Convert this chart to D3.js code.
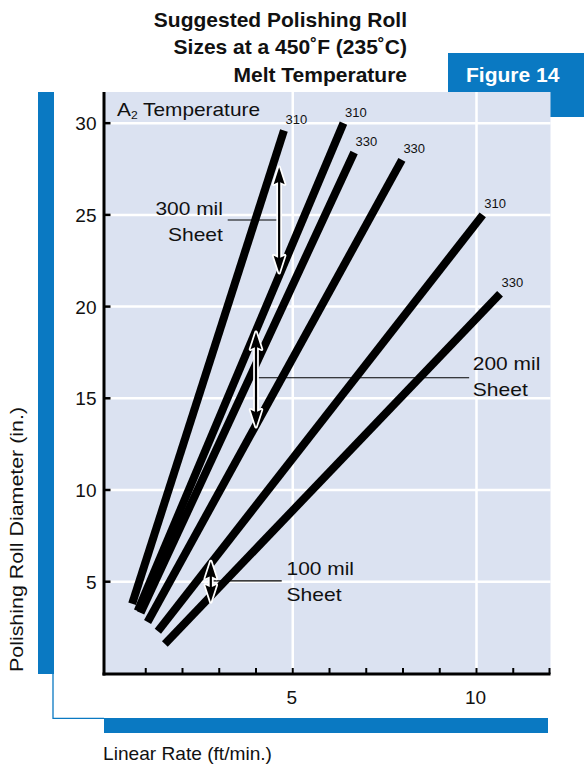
<!DOCTYPE html>
<html>
<head>
<meta charset="utf-8">
<script src="https://cdn.jsdelivr.net/npm/d3@7"></script>
<style>
  html, body { margin: 0; padding: 0; background: #ffffff; }
  svg { display: block; }
  text { font-family: "Liberation Sans", Arial, Helvetica, sans-serif; }
</style>
</head>
<body>
<div id="chart"></div>
<script>
// ---------- data ----------
const titleLines = ["Suggested Polishing Roll", "Sizes at a 450\u02daF (235\u02daC)", "Melt Temperature"];
const figureLabel = "Figure 14";
const xAxisTitle = "Linear Rate (ft/min.)";
const yAxisTitle = "Polishing Roll Diameter (in.)";

// six roll-size lines (A2 temperature labels)
const lineLabels     = ["310", "310", "330", "330", "310", "330"];
const startRate      = [0.63, 0.78, 0.86, 1.05, 1.33, 1.52];
const startDiameter  = [3.8, 3.4, 3.3, 2.8, 2.3, 1.6];
const endRate        = [4.76, 6.38, 6.67, 7.97, 10.17, 10.64];
const endDiameter    = [29.6, 30.0, 28.4, 28.0, 25.0, 20.7];

// sheet thickness annotations
const sheetLabels    = ["300 mil", "200 mil", "100 mil"];
const arrowRate      = [4.63, 4.00, 2.77];
const arrowTop       = [27.6, 18.6, 6.1];
const arrowBottom    = [21.85, 13.45, 3.9];
const leaderDiameter = [24.72, 16.12, 5.04];
const leaderEndRate  = [3.23, 9.80, 4.70];
const textRate       = [3.10, 9.90, 4.83];
const textDiameter   = [25.0, 16.55, 5.35];
const textAnchor     = ["end", "start", "start"];

const xTickValues  = d3.range(1, 13);
const xTickLabels  = [5, 10];
const yTickValues  = [5, 10, 15, 20, 25, 30];
const xGrid        = [5, 10];

// ---------- layout ----------
const W = 584, H = 766;
const frame = { left: 104, right: 550.5, top: 92, bottom: 674 };
const blue = "#0a79c2";
const plotBg = "#dbe2f1";

const x = d3.scaleLinear().domain([0, 12]).range([109, 550]);
const y = d3.scaleLinear().domain([0, 31.7]).range([673.4, 92]);

const svg = d3.select("#chart").append("svg")
  .attr("width", W).attr("height", H)
  .attr("viewBox", `0 0 ${W} ${H}`);

// Figure box (behind plot)
svg.append("rect").attr("x", 448).attr("y", 53).attr("width", W - 448).attr("height", 64).attr("fill", blue);
svg.append("text").attr("x", 466).attr("y", 82)
  .attr("fill", "#fff").attr("font-weight", "bold").attr("font-size", 21)
  .text(figureLabel);

// Title
svg.append("g").selectAll("text").data(titleLines).join("text")
  .attr("x", 407).attr("y", (d, i) => 26.7 + i * 27.5)
  .attr("text-anchor", "end").attr("font-weight", "bold").attr("font-size", 21)
  .attr("fill", "#111").text(d => d);

// Blue decorative bars
svg.append("rect").attr("x", 38).attr("y", frame.top).attr("width", 16).attr("height", frame.bottom - frame.top).attr("fill", blue);
svg.append("path").attr("d", `M53,${frame.bottom} V718.3 H${frame.left}`).attr("fill", "none").attr("stroke", blue).attr("stroke-width", 1.3);
svg.append("rect").attr("x", frame.left).attr("y", 718).attr("width", 548 - frame.left).attr("height", 15).attr("fill", blue);

// Plot background
svg.append("rect").attr("x", frame.left).attr("y", frame.top)
  .attr("width", frame.right - frame.left).attr("height", frame.bottom - frame.top).attr("fill", plotBg);

// Grid
svg.append("g").selectAll("line").data(yTickValues).join("line")
  .attr("x1", frame.left).attr("x2", frame.right)
  .attr("y1", d => y(d)).attr("y2", d => y(d))
  .attr("stroke", "#fff").attr("stroke-width", 2.5);
svg.append("g").selectAll("line").data(xGrid).join("line")
  .attr("x1", d => x(d)).attr("x2", d => x(d))
  .attr("y1", frame.top).attr("y2", frame.bottom)
  .attr("stroke", "#fff").attr("stroke-width", 2.5);

// Axes frame lines
svg.append("line").attr("x1", frame.left).attr("x2", frame.left).attr("y1", frame.top).attr("y2", frame.bottom + 1.5)
  .attr("stroke", "#000").attr("stroke-width", 3);
svg.append("line").attr("x1", frame.left - 1.5).attr("x2", frame.right).attr("y1", frame.bottom).attr("y2", frame.bottom)
  .attr("stroke", "#000").attr("stroke-width", 3);

// Ticks
svg.append("g").selectAll("line").data(xTickValues).join("line")
  .attr("x1", d => Math.min(x(d), frame.right - 1)).attr("x2", d => Math.min(x(d), frame.right - 1))
  .attr("y1", frame.bottom).attr("y2", frame.bottom - 6)
  .attr("stroke", "#000").attr("stroke-width", 2);
svg.append("g").selectAll("line").data(yTickValues).join("line")
  .attr("x1", frame.left).attr("x2", frame.left + 6.5)
  .attr("y1", d => y(d)).attr("y2", d => y(d))
  .attr("stroke", "#000").attr("stroke-width", 2.5);

// Tick labels
svg.append("g").selectAll("text").data(yTickValues).join("text")
  .attr("x", 96.5).attr("y", d => y(d) + 7)
  .attr("text-anchor", "end").attr("font-size", 19).attr("fill", "#111").text(d => d);
svg.append("g").selectAll("text").data(xTickLabels).join("text")
  .attr("x", d => x(d) - 1).attr("y", 704)
  .attr("text-anchor", "middle").attr("font-size", 19).attr("fill", "#111").text(d => d);

// Axis titles
svg.append("text").attr("x", 103).attr("y", 760).attr("font-size", 19).attr("fill", "#111")
  .attr("textLength", 169).attr("lengthAdjust", "spacingAndGlyphs").text(xAxisTitle);
svg.append("text").attr("transform", "translate(23,672) rotate(-90)")
  .attr("font-size", 19).attr("fill", "#111")
  .attr("textLength", 265).attr("lengthAdjust", "spacingAndGlyphs")
  .text(yAxisTitle);

// A2 Temperature
const a2 = svg.append("text").attr("x", 117).attr("y", 116).attr("font-size", 19).attr("fill", "#111")
  .attr("textLength", 143).attr("lengthAdjust", "spacingAndGlyphs");
a2.append("tspan").text("A");
a2.append("tspan").attr("font-size", 11).attr("dy", 3).text("2");
a2.append("tspan").attr("dy", -3).text(" Temperature");

// Roll-size lines
const lineIdx = d3.range(lineLabels.length);
svg.append("g").selectAll("line").data(lineIdx).join("line")
  .attr("x1", i => x(startRate[i])).attr("y1", i => y(startDiameter[i]))
  .attr("x2", i => x(endRate[i])).attr("y2", i => y(endDiameter[i]))
  .attr("stroke", "#000").attr("stroke-width", 8).attr("stroke-linecap", "butt");

svg.append("g").selectAll("text").data(lineIdx).join("text")
  .attr("x", i => x(endRate[i]) + 1.5).attr("y", i => y(endDiameter[i]) - 6.5)
  .attr("font-size", 13).attr("fill", "#111").text(i => lineLabels[i]);

// Sheet annotations
const sIdx = d3.range(sheetLabels.length);
const ann = svg.append("g");
ann.selectAll("line.leader").data(sIdx).join("line").attr("class", "leader")
  .attr("x1", i => x(arrowRate[i])).attr("x2", i => x(leaderEndRate[i]))
  .attr("y1", i => y(leaderDiameter[i])).attr("y2", i => y(leaderDiameter[i]))
  .attr("stroke", "#000").attr("stroke-width", 1.2);

function arrowPath(i) {
  const ax = x(arrowRate[i]), t = y(arrowTop[i]), b = y(arrowBottom[i]);
  const hl = Math.min(17, (b - t) * 0.42), hw = 5.5;
  return `M${ax},${t} L${ax + hw},${t + hl} L${ax + 1.1},${t + hl - 2} L${ax + 1.1},${b - hl + 2} L${ax + hw},${b - hl} L${ax},${b} L${ax - hw},${b - hl} L${ax - 1.1},${b - hl + 2} L${ax - 1.1},${t + hl - 2} L${ax - hw},${t + hl} Z`;
}
ann.selectAll("path.halo").data(sIdx).join("path").attr("class", "halo")
  .attr("d", arrowPath).attr("fill", "#fff").attr("stroke", "#fff").attr("stroke-width", 3.5).attr("stroke-linejoin", "round");
ann.selectAll("path.arrow").data(sIdx).join("path").attr("class", "arrow")
  .attr("d", arrowPath).attr("fill", "#000");

sIdx.forEach(i => {
  const tx = x(textRate[i]), ty = y(textDiameter[i]);
  svg.append("text").attr("x", tx).attr("y", ty).attr("text-anchor", textAnchor[i])
    .attr("font-size", 19).attr("fill", "#111")
    .attr("textLength", 67.5).attr("lengthAdjust", "spacingAndGlyphs").text(sheetLabels[i]);
  svg.append("text").attr("x", tx).attr("y", ty + 26).attr("text-anchor", textAnchor[i])
    .attr("font-size", 19).attr("fill", "#111")
    .attr("textLength", 55).attr("lengthAdjust", "spacingAndGlyphs").text("Sheet");
});
</script>
</body>
</html>
